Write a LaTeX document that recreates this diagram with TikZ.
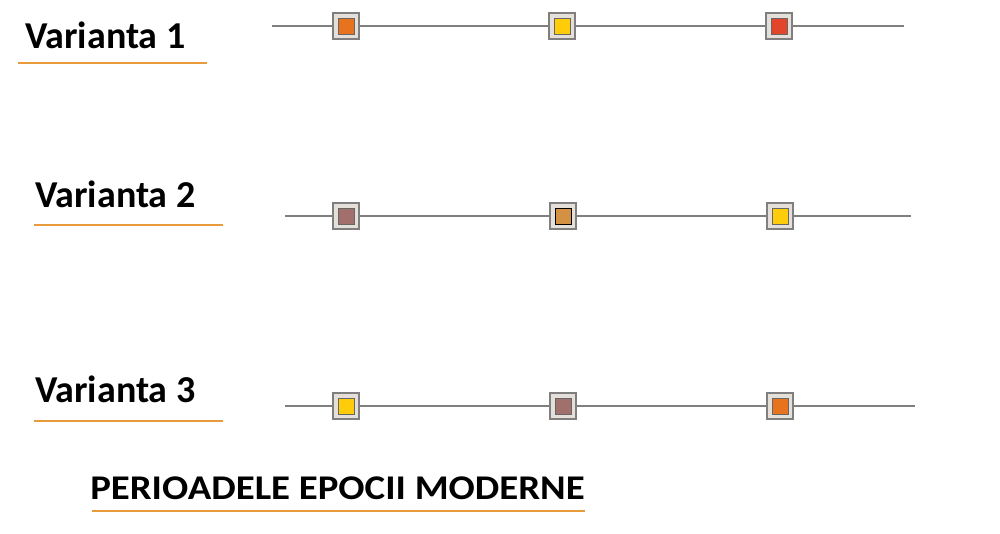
\documentclass[tikz,border=0pt]{standalone}
\usepackage{fontspec}
\setmainfont{Carlito}
\newfontfamily\headfont[FakeStretch=1.12]{Carlito}

\definecolor{lineg}{HTML}{7F7F7F}
\definecolor{boxbg}{HTML}{E5DFDA}
\definecolor{uline}{HTML}{E89B3A}
\definecolor{corange}{HTML}{E8731E}
\definecolor{cyellow}{HTML}{FFCC0A}
\definecolor{cred}{HTML}{E2452A}
\definecolor{cmauve}{HTML}{A2706C}
\definecolor{ctan}{HTML}{D39243}

\begin{document}
\begin{tikzpicture}[x=0.75pt, y=-0.75pt,
    marker/.style={draw=lineg, line width=1.5pt, fill=boxbg, minimum size=20pt, inner sep=0pt},
    swatch/.style={draw=lineg!80!black, line width=0.6pt, minimum size=12pt, inner sep=0pt},
    title/.style={anchor=base west, inner sep=0pt, font=\fontsize{28.5}{34}\selectfont\bfseries},
    axis/.style={draw=lineg, line width=1.5pt},
    under/.style={draw=uline, line width=2.2pt}]
    \useasboundingbox (0,0) rectangle (1000,533);

    % row 1
    \node[title] (v1) at (25,48) {Varianta 1};
    \draw[under] (18,63) -- (207,63);
    \coordinate (a1) at (272,26);
    \coordinate (b1) at (904,26);
    \node[marker] (m11) at (346,26) {};
    \node[marker] (m12) at (562,26) {};
    \node[marker] (m13) at (779,26) {};
    \draw[axis] (a1) -- (m11) (m11) -- (m12) (m12) -- (m13) (m13) -- (b1);
    \node[swatch, fill=corange] at (m11) {};
    \node[swatch, fill=cyellow] at (m12) {};
    \node[swatch, fill=cred] at (m13) {};

    % row 2
    \node[title] (v2) at (35,207) {Varianta 2};
    \draw[under] (34,225) -- (223,225);
    \coordinate (a2) at (285,216);
    \coordinate (b2) at (911,216);
    \node[marker] (m21) at (346,216) {};
    \node[marker] (m22) at (563,216) {};
    \node[marker] (m23) at (780,216) {};
    \draw[axis] (a2) -- (m21) (m21) -- (m22) (m22) -- (m23) (m23) -- (b2);
    \node[swatch, fill=cmauve] at (m21) {};
    \node[swatch, fill=ctan, draw=black] at (m22) {};
    \node[swatch, fill=cyellow] at (m23) {};

    % row 3
    \node[title] (v3) at (35,402) {Varianta 3};
    \draw[under] (34,421) -- (223,421);
    \coordinate (a3) at (285,406);
    \coordinate (b3) at (915,406);
    \node[marker] (m31) at (346,406) {};
    \node[marker] (m32) at (563,406) {};
    \node[marker] (m33) at (780,406) {};
    \draw[axis] (a3) -- (m31) (m31) -- (m32) (m32) -- (m33) (m33) -- (b3);
    \node[swatch, fill=cyellow] at (m31) {};
    \node[swatch, fill=cmauve] at (m32) {};
    \node[swatch, fill=corange] at (m33) {};

    % heading
    \node[title, font=\headfont\fontsize{26}{32}\selectfont\bfseries] (ep) at (90,499) {PERIOADELE EPOCII MODERNE};
    \draw[under] (92,511) -- (585,511);
\end{tikzpicture}
\end{document}
